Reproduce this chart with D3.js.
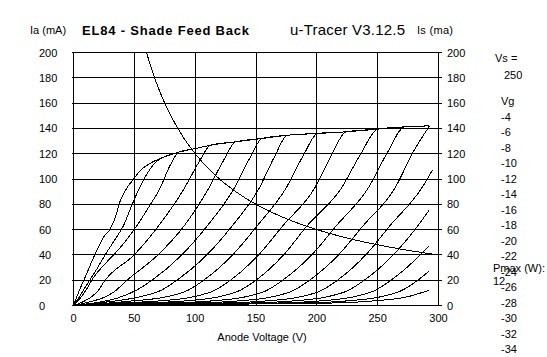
<!DOCTYPE html>
<html><head><meta charset="utf-8">
<script src="https://cdn.jsdelivr.net/npm/d3@7"></script>
<style>
html,body{margin:0;padding:0;background:#fff;}
svg text{font-family:"Liberation Sans",Arial,sans-serif;font-size:11px;fill:#000;}
</style></head><body>
<svg id="chart" width="547" height="357"></svg>
<script>
// ---- data ----
const xTicks = [0, 50, 100, 150, 200, 250, 300];
const yTicks = [0, 20, 40, 60, 80, 100, 120, 140, 160, 180, 200];
const vgLabels = ["-4","-6","-8","-10","-12","-14","-16","-18","-20","-22","-24","-26","-28","-30","-32","-34"];
const vsValue = "250";
const pmaxValue = "12";
const titleText = "EL84 - Shade Feed Back";
const tracerText = "u-Tracer V3.12.5";

// saturation envelope (Va, Ia mA)
const envelope = [[86.5,121.2],[100,124.0],[112.6,126.7],[133.3,129.4],[155,132],[175.8,134.6],[200.6,136],[224,137.3],[250,139.4],[272,141.2],[292.6,142]];

// rising part of each anode-current trace (Va, Ia mA)
const traces = [
  [[0,0],[4,10],[9.6,22.4],[17.9,40.9],[24.7,54],[30.2,60.6],[34.4,69.8],[38.5,83],[42.6,90.9],[49.5,100.1],[55,106.7],[63.2,112.5],[74.2,117.3],[86.5,121.2]],
  [[0,0],[5,7],[10,15],[18,27],[26,40],[34,52],[41,63],[47,77],[54,92.5],[61,105],[68,113.6],[74.2,117.3],[86.5,121.2]],
  [[0,0],[4,4],[8,9],[11.5,14],[15,20],[24,31],[33,40],[42,50],[52,63],[62,78],[71,92.5],[79,110],[86.5,121.2]],
  [[0,0],[8,3],[15,7],[20,11.5],[26,20],[49.8,40],[70,63],[91,92.5],[102.9,113],[112.6,126.7]],
  [[0,0],[14,3],[24,6],[33,10.5],[44,20],[69.4,40],[91,63],[111,92.5],[123.3,114.6],[133.3,129.4]],
  [[0,0],[20,2.5],[35,5.5],[51.5,12],[64.5,20],[89,40],[110,63],[132,92.5],[144.7,116.2],[155,132]],
  [[0,0],[25,2.5],[55,7],[72,12],[85,20],[109.6,40],[130.5,63],[152.5,92.5],[165.3,117.8],[175.8,134.6]],
  [[0,0],[47,3.5],[77,7],[94,12],[107,20],[130.8,40],[151,63],[174.5,92.5],[188.9,118.6],[200.6,136]],
  [[0,0],[29,1.8],[69,3.5],[99,7],[116,12],[129,20],[152.2,40],[172,63],[198,92.5],[212.3,119.4],[224,137.3]],
  [[0,0],[50,1.8],[90,3.5],[120,7],[137,12],[150,20],[172.7,40],[192,63],[220,92.5],[236.5,120.6],[250,139.4]],
  [[0,0],[72,1.8],[112,3.5],[142,7],[159,12],[172,20],[195.8,40],[216,63],[242,92.5],[258.5,121.7],[272,141.2]],
  [[0,0],[94,1.8],[134,3.5],[164,7],[181,12],[194,20],[217.8,40],[238,63],[264,92.5],[279.7,122.2],[292.6,142]],
  [[0,0],[117,1.8],[157,3.5],[187,7],[204,12],[217,20],[240.2,40],[260,63],[286,92.5],[295,107]],
  [[0,0],[139,1.8],[179,3.5],[209,7],[226,12],[239,20],[262.8,40],[283,63],[292,75]],
  [[0,0],[161,1.8],[201,3.5],[231,7],[248,12],[261,20],[285,40],[292,47]],
  [[0,0],[183,1.8],[223,3.5],[253,7],[270,12],[283,20],[292,27]],
  [[0,0],[205,1.8],[245,3.5],[275,7],[292,12]]
];
// whether the trace continues along the saturation envelope
const joinsEnvelope = [true,true,true,true,true,true,true,true,true,true,true,true,false,false,false,false,false];

// Pmax = 12 W hyperbola
const pmaxVa = [60,65,70,75,80,90,100,110,120,130,140,150,160,175,200,225,250,275,300];
const pmaxIa = [200,184.6,171.4,160,150,133.3,120,109.1,100,92.3,85.7,80,75,68.6,60,53.3,48,43.6,40];

// ---- drawing ----
const svg = d3.select("#chart");
const x = d3.scaleLinear().domain([0,300]).range([73.5,438.5]);
const y = d3.scaleLinear().domain([0,200]).range([305.5,52.5]);

const g = svg.append("g").attr("shape-rendering","crispEdges");
// horizontal grid + left/right ticks
g.selectAll("line.h").data(yTicks).enter().append("line")
  .attr("x1", x(0)-2).attr("x2", x(300)+3)
  .attr("y1", d=>Math.round(y(d)-0.5)+0.5).attr("y2", d=>Math.round(y(d)-0.5)+0.5)
  .attr("stroke","#000").attr("stroke-width",1);
// vertical grid
g.selectAll("line.v").data(xTicks).enter().append("line")
  .attr("x1", d=>Math.round(x(d)-0.5)+0.5).attr("x2", d=>Math.round(x(d)-0.5)+0.5)
  .attr("y1", y(200)).attr("y2", y(0))
  .attr("stroke","#000").attr("stroke-width",1);

// labels
svg.selectAll("text.yl").data(yTicks).enter().append("text")
  .attr("x",39).attr("y", d=>Math.round(y(d))+4).text(d=>d);
svg.selectAll("text.yr").data(yTicks).enter().append("text")
  .attr("x",447).attr("y", d=>Math.round(y(d))+4).text(d=>d);
svg.selectAll("text.xl").data(xTicks).enter().append("text")
  .attr("x", d=>x(d)).attr("y",322).attr("text-anchor","middle").text(d=>d);

svg.append("text").attr("x",262).attr("y",341).attr("text-anchor","middle").text("Anode Voltage (V)");
svg.append("text").attr("x",30).attr("y",34).text("Ia (mA)");
svg.append("text").attr("x",417).attr("y",34).style("letter-spacing","0.3px").text("Is (ma)");
svg.append("text").attr("x",82).attr("y",35).style("font-size","13px").style("font-weight","bold")
  .style("letter-spacing","0.8px").text(titleText);
svg.append("text").attr("x",290).attr("y",35).style("font-size","15px").style("letter-spacing","0.2px").text(tracerText);

svg.append("text").attr("x",495).attr("y",62).text("Vs =");
svg.append("text").attr("x",504).attr("y",79).text(vsValue);
svg.append("text").attr("x",501).attr("y",105).text("Vg");
svg.selectAll("text.vg").data(vgLabels).enter().append("text")
  .attr("x",501).attr("y",(d,i)=>121+i*15.47).text(d=>d);
svg.append("text").attr("x",493).attr("y",272).text("Pmax (W):");
svg.append("text").attr("x",493).attr("y",285).text(pmaxValue);

// curves
const line = d3.line().x(d=>x(d[0])).y(d=>y(d[1])).curve(d3.curveMonotoneX);
const cg = svg.append("g").attr("fill","none").attr("stroke","#000").attr("stroke-width",1)
  .attr("shape-rendering","crispEdges");
traces.forEach((t,i)=>{
  let pts = t.slice();
  if (joinsEnvelope[i]) {
    const last = t[t.length-1][0];
    envelope.forEach(p=>{ if (p[0] > last + 0.01) pts.push(p); });
  }
  cg.append("path").attr("d", line(pts));
});
const pl = d3.line().x(d=>x(d[0])).y(d=>y(d[1])).curve(d3.curveMonotoneX);
cg.append("path").attr("d", pl(pmaxVa.map((v,i)=>[v,pmaxIa[i]])));
</script>
</body></html>
